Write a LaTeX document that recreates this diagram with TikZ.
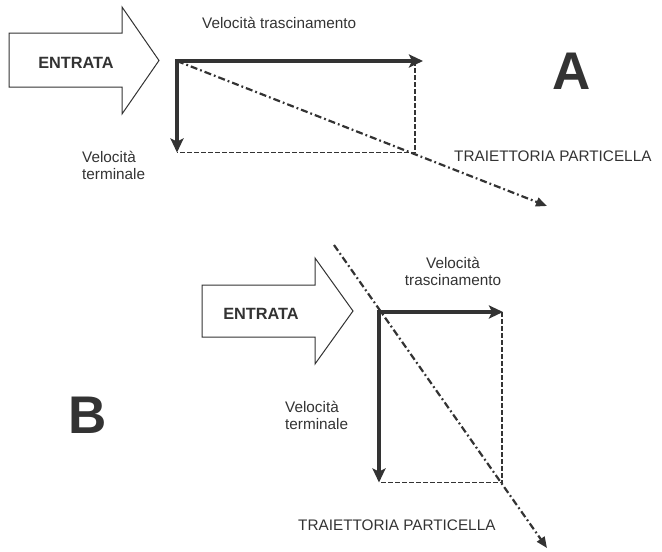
\documentclass[tikz,border=0pt]{standalone}
\usepackage{fontspec}
\setmainfont{Liberation Sans}
\usetikzlibrary{arrows.meta}
\definecolor{ink}{HTML}{333333}
\begin{document}
\begin{tikzpicture}[x=1pt,y=-1pt,
  lbl/.style={inner sep=0pt, text=ink, font=\fontsize{15.3}{16.5}\selectfont},
  big/.style={inner sep=0pt, text=ink, font=\fontsize{53}{60}\selectfont\bfseries},
  boldlbl/.style={inner sep=0pt, text=ink, font=\fontsize{16.3}{18}\selectfont\bfseries},
  inarrow/.style={draw=ink, line width=1pt, fill=white, line join=miter},
  vec/.style={draw=ink, line width=4.5pt, -{Stealth[length=14pt,width=13pt,inset=3pt]}, shorten <=-2.2pt},
  guide/.style={draw=ink, line width=1.8pt, dash pattern=on 4.5pt off 2.5pt},
  traj/.style={draw=ink, line width=2.2pt, dash pattern=on 7pt off 3pt on 1.8pt off 3pt, -{Triangle[length=11pt,width=9pt]}}]
\useasboundingbox (0,0) rectangle (662,552);

% ---------------- A ----------------
\draw[inarrow] (9,33) -- (122,33) -- (122,7) -- (159,60.5) -- (122,114) -- (122,87) -- (9,87) -- cycle;
\node[boldlbl, anchor=base] (entA) at (76,68) {ENTRATA};

\coordinate (oA) at (177,61);
\coordinate (hA) at (423,61);
\coordinate (vA) at (177,152.5);
\coordinate (cA) at (415,152.5);
\coordinate (tA) at (547,206);
\draw[guide] (415,61) -- (cA) -- (vA);
\draw[traj] (oA) -- (tA);
\draw[vec] (oA) -- (hA);
\draw[vec] (oA) -- (vA);

\node[lbl, anchor=base west] (trA) at (202,28) {Velocità trascinamento};
\node[lbl, anchor=base west, align=left] (teA) at (82,179) {Velocità\\terminale};
\node[lbl, anchor=base west] (tjA) at (454,161) {TRAIETTORIA PARTICELLA};
\node[big, anchor=base west] (labA) at (552,89) {A};

% ---------------- B ----------------
\draw[inarrow] (202,285) -- (315,285) -- (315,258) -- (353,311) -- (315,364) -- (315,337) -- (202,337) -- cycle;
\node[boldlbl, anchor=base] (entB) at (261,319) {ENTRATA};

\coordinate (oB) at (379,312);
\coordinate (hB) at (503,312);
\coordinate (vB) at (379,482.5);
\coordinate (cB) at (502,482.5);
\coordinate (sB) at (334,245);
\coordinate (tB) at (547,548);
\draw[guide] (502,312) -- (cB) -- (vB);
\draw[traj] (sB) -- (tB);
\draw[vec] (oB) -- (hB);
\draw[vec] (oB) -- (vB);

\node[lbl, anchor=base, align=center] (trB) at (453,285) {Velocità\\trascinamento};
\node[lbl, anchor=base west, align=left] (teB) at (285,429) {Velocità\\terminale};
\node[lbl, anchor=base west] (tjB) at (298,530) {TRAIETTORIA PARTICELLA};
\node[big, anchor=base west] (labB) at (68,433) {B};
\end{tikzpicture}
\end{document}
